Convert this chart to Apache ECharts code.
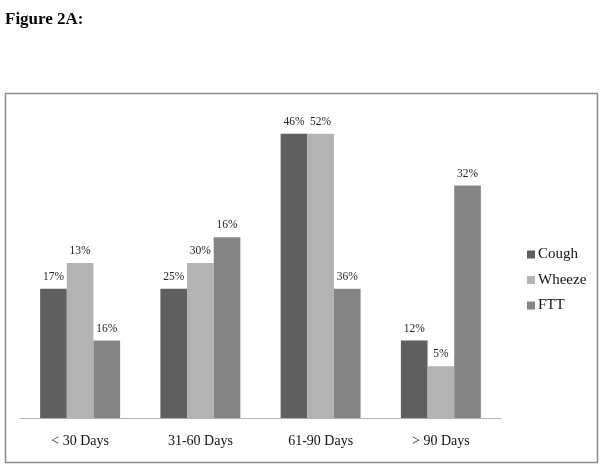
<!DOCTYPE html>
<html><head><meta charset="utf-8">
<script src="https://cdn.jsdelivr.net/npm/echarts@6/dist/echarts.min.js"></script>
<style>html,body{margin:0;padding:0;background:#fff}#c{width:603px;height:469px}</style>
</head><body><div id="c"></div>
<script>
const categories = ["< 30 Days", "31-60 Days", "61-90 Days", "> 90 Days"];
const seriesNames = ["Cough", "Wheeze", "FTT"];
const coughValues = [5, 5, 11, 3];
const wheezeValues = [6, 6, 11, 2];
const fttValues = [3, 7, 5, 9];
const coughLabels = ["17%", "25%", "46%", "12%"];
const wheezeLabels = ["13%", "30%", "52%", "5%"];
const fttLabels = ["16%", "16%", "36%", "32%"];
const colors = ["#5f5f5f", "#b3b3b3", "#858585"];

const serif = "'Liberation Serif', 'DejaVu Serif', serif";
function mk(name, vals, labs, color) {
  return {
    name: name, type: 'bar', data: vals, barGap: '0%', barCategoryGap: '33.5%',
    itemStyle: { color: color },
    label: { show: true, position: 'top', distance: 6, color: '#222', fontFamily: serif, fontSize: 11.5,
      formatter: p => labs[p.dataIndex] }
  };
}
const chart = echarts.init(document.getElementById('c'), null, { renderer: 'canvas' });
chart.setOption({
  animation: false,
  graphic: [
    { type: 'text', left: 5, top: 11, style: { text: 'Figure 2A:', font: "bold 17px 'Liberation Serif', serif", fill: '#000' } },
    { type: 'rect', shape: { x: 5.5, y: 93.5, width: 592, height: 369 }, style: { fill: 'none', stroke: '#8a8a8a', lineWidth: 1.5 }, z: -1 }
  ],
  legend: {
    orient: 'vertical', left: 522, top: 242, itemWidth: 8, itemHeight: 8, itemGap: 10.5,
    icon: 'rect', data: seriesNames,
    textStyle: { fontFamily: serif, fontSize: 15, color: '#111', padding: [0, 0, 0, -2] }
  },
  grid: { left: 20, right: 102, top: 108, bottom: 51 },
  xAxis: {
    type: 'category', data: categories,
    axisLine: { lineStyle: { color: '#b0b0b0', width: 1 } },
    axisTick: { show: false },
    axisLabel: { margin: 16, fontFamily: serif, fontSize: 14, color: '#111' }
  },
  yAxis: { type: 'value', min: 0, max: 12, show: false, splitLine: { show: false } },
  series: [
    mk(seriesNames[0], coughValues, coughLabels, colors[0]),
    mk(seriesNames[1], wheezeValues, wheezeLabels, colors[1]),
    mk(seriesNames[2], fttValues, fttLabels, colors[2])
  ]
});
</script></body></html>
